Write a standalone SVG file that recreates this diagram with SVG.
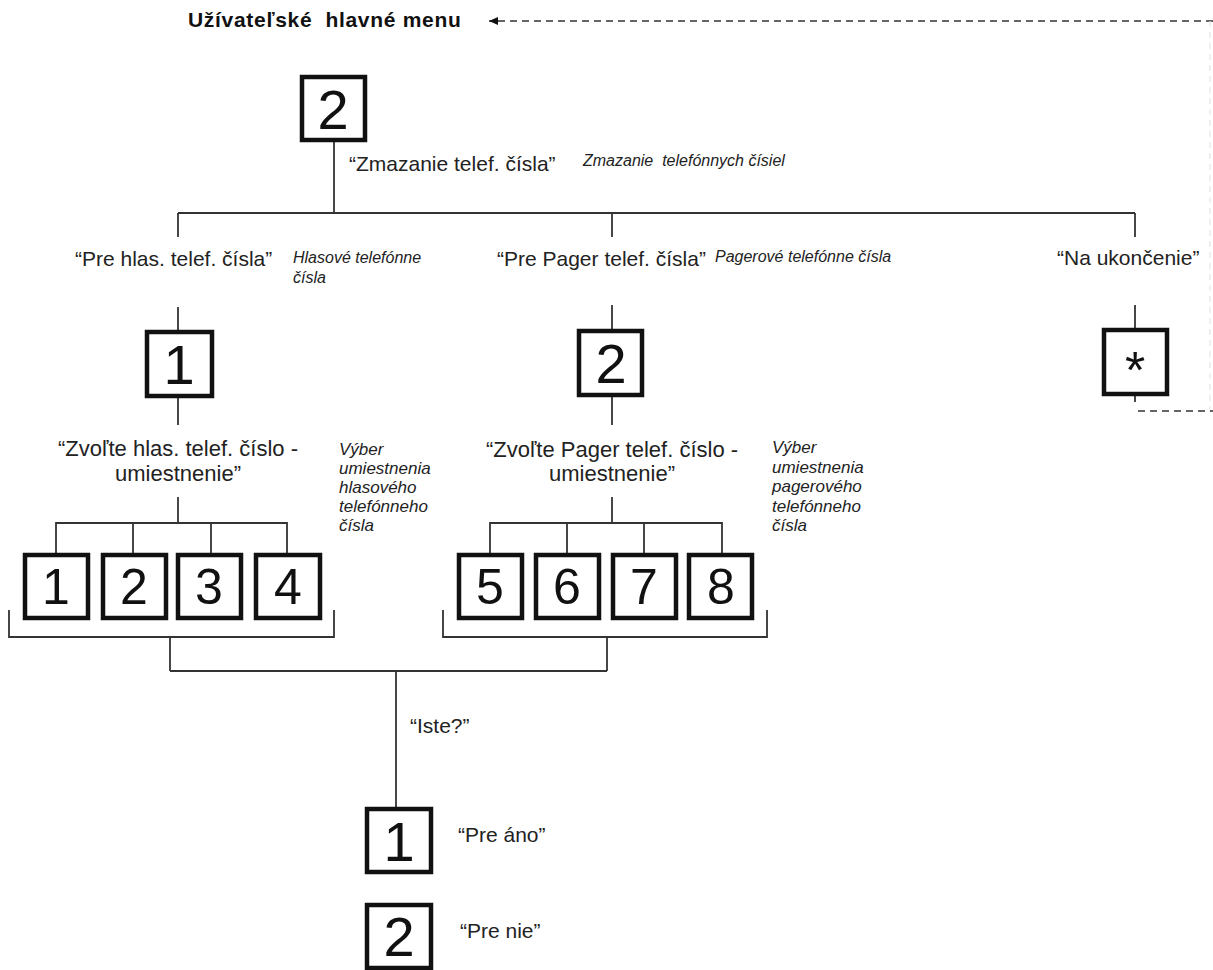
<svg xmlns="http://www.w3.org/2000/svg" width="1213" height="970" viewBox="0 0 1213 970">
<style>
.box{fill:#fff;stroke:#111;stroke-width:4.5}
.ln{fill:none;stroke:#333;stroke-width:1.8}
.dash{fill:none;stroke:#333;stroke-width:1.5;stroke-dasharray:7 5}
.dig{font-family:"Liberation Sans",Arial,sans-serif;font-size:56px;fill:#111;text-anchor:middle}
.dsm{font-family:"Liberation Sans",Arial,sans-serif;font-size:50px;fill:#111;text-anchor:middle}
.lbl{font-family:"Liberation Sans",Arial,sans-serif;font-size:21px;fill:#222}
.lbl2{font-family:"Liberation Sans",Arial,sans-serif;font-size:22px;fill:#222;text-anchor:middle}
.it{font-family:"Liberation Sans",Arial,sans-serif;font-size:16px;font-style:italic;fill:#222}
.it2{font-family:"Liberation Sans",Arial,sans-serif;font-size:17px;font-style:italic;fill:#222}
.ttl{font-family:"Liberation Sans",Arial,sans-serif;font-size:21px;font-weight:bold;fill:#111;letter-spacing:0.7px}
</style>
<defs>
<marker id="ah" markerWidth="10" markerHeight="8" refX="9" refY="4" orient="auto" markerUnits="userSpaceOnUse">
<path d="M0,0 L9,4 L0,8 Z" fill="#111"/>
</marker>
</defs>
<rect width="1213" height="970" fill="#fff"/>

<g id="connectors">
<line class="dash" x1="1213" y1="21" x2="489" y2="21" marker-end="url(#ah)"/>
<line x1="1210" y1="21" x2="1210" y2="411" stroke="#e4e4e4" stroke-width="1.2" stroke-dasharray="6 5"/>
<line class="dash" x1="1138" y1="411" x2="1213" y2="411"/>
<line class="ln" x1="1135" y1="395" x2="1135" y2="402"/>
<line class="ln" x1="334" y1="140" x2="334" y2="213"/>
<line class="ln" x1="178" y1="213" x2="1135" y2="213"/>
<line class="ln" x1="178" y1="213" x2="178" y2="237"/>
<line class="ln" x1="612" y1="213" x2="612" y2="237"/>
<line class="ln" x1="1135" y1="213" x2="1135" y2="237"/>
<line class="ln" x1="178" y1="307" x2="178" y2="331"/>
<line class="ln" x1="612" y1="305" x2="612" y2="329"/>
<line class="ln" x1="1135" y1="305" x2="1135" y2="328"/>
<line class="ln" x1="178" y1="397" x2="178" y2="425"/>
<line class="ln" x1="612" y1="396" x2="612" y2="425"/>
<line class="ln" x1="178" y1="497" x2="178" y2="523"/>
<path class="ln" d="M56,553 V523 H287 V553 M133,523 V553 M211,523 V553"/>
<path class="ln" d="M9,610 V637 H334 V610"/>
<line class="ln" x1="170" y1="637" x2="170" y2="671"/>
<line class="ln" x1="612" y1="497" x2="612" y2="523"/>
<path class="ln" d="M490,553 V523 H722 V553 M567,523 V553 M644,523 V553"/>
<path class="ln" d="M443,610 V637 H767 V610"/>
<line class="ln" x1="607" y1="637" x2="607" y2="671"/>
<line class="ln" x1="170" y1="671" x2="607" y2="671"/>
<line class="ln" x1="396" y1="671" x2="396" y2="807"/>
</g>

<g id="title">
<text class="ttl" x="188" y="27" xml:space="preserve">Užívateľské  hlavné menu</text>
</g>

<g id="node-top">
<rect class="box" x="302" y="77" width="63" height="63"/>
<text class="dig" x="333" y="129">2</text>
<text class="lbl" x="349" y="171">“Zmazanie telef. čísla”</text>
<text class="it" x="583" y="166" xml:space="preserve">Zmazanie  telefónnych čísiel</text>
</g>

<g id="node-hlas">
<text class="lbl" x="75" y="266">“Pre hlas. telef. čísla”</text>
<text class="it" x="293" y="263">Hlasové telefónne</text>
<text class="it" x="293" y="283">čísla</text>
<rect class="box" x="147" y="332" width="65" height="64"/>
<text class="dig" x="179" y="384">1</text>
<text class="lbl2" x="178" y="456">“Zvoľte hlas. telef. číslo -</text>
<text class="lbl2" x="178" y="481">umiestnenie”</text>
<text class="it2" x="339" y="455">Výber</text>
<text class="it2" x="339" y="474">umiestnenia</text>
<text class="it2" x="339" y="493">hlasového</text>
<text class="it2" x="339" y="512">telefónneho</text>
<text class="it2" x="339" y="531">čísla</text>
</g>

<g id="node-pager">
<text class="lbl" x="497" y="266">“Pre Pager telef. čísla”</text>
<text class="it" x="715" y="262">Pagerové telefónne čísla</text>
<rect class="box" x="579" y="331" width="63" height="64"/>
<text class="dig" x="611" y="383">2</text>
<text class="lbl2" x="612" y="457">“Zvoľte Pager telef. číslo -</text>
<text class="lbl2" x="612" y="481">umiestnenie”</text>
<text class="it2" x="772" y="453">Výber</text>
<text class="it2" x="772" y="473">umiestnenia</text>
<text class="it2" x="772" y="492">pagerového</text>
<text class="it2" x="772" y="512">telefónneho</text>
<text class="it2" x="772" y="531">čísla</text>
</g>

<g id="node-end">
<text class="lbl" x="1057" y="265">“Na ukončenie”</text>
<rect class="box" x="1104" y="330" width="63" height="64"/>
<text class="dig" x="1135" y="388" style="font-size:52px">*</text>
</g>

<g id="row-hlas">
<rect class="box" x="25" y="555" width="63" height="63"/><text class="dsm" x="56" y="604">1</text>
<rect class="box" x="103" y="555" width="63" height="63"/><text class="dsm" x="134" y="604">2</text>
<rect class="box" x="178" y="555" width="63" height="63"/><text class="dsm" x="209" y="604">3</text>
<rect class="box" x="256" y="555" width="64" height="63"/><text class="dsm" x="288" y="604">4</text>
</g>

<g id="row-pager">
<rect class="box" x="459" y="555" width="63" height="63"/><text class="dsm" x="490" y="604">5</text>
<rect class="box" x="536" y="555" width="63" height="63"/><text class="dsm" x="567" y="604">6</text>
<rect class="box" x="613" y="555" width="63" height="63"/><text class="dsm" x="644" y="604">7</text>
<rect class="box" x="689" y="555" width="63" height="63"/><text class="dsm" x="721" y="604">8</text>
</g>

<g id="node-confirm">
<text class="lbl" x="410" y="733">“Iste?”</text>
<rect class="box" x="367" y="809" width="64" height="63"/>
<text class="dig" x="399" y="861">1</text>
<text class="lbl" x="458" y="842">“Pre áno”</text>
<rect class="box" x="367" y="905" width="64" height="63"/>
<text class="dig" x="399" y="956">2</text>
<text class="lbl" x="460" y="938">“Pre nie”</text>
</g>
</svg>
